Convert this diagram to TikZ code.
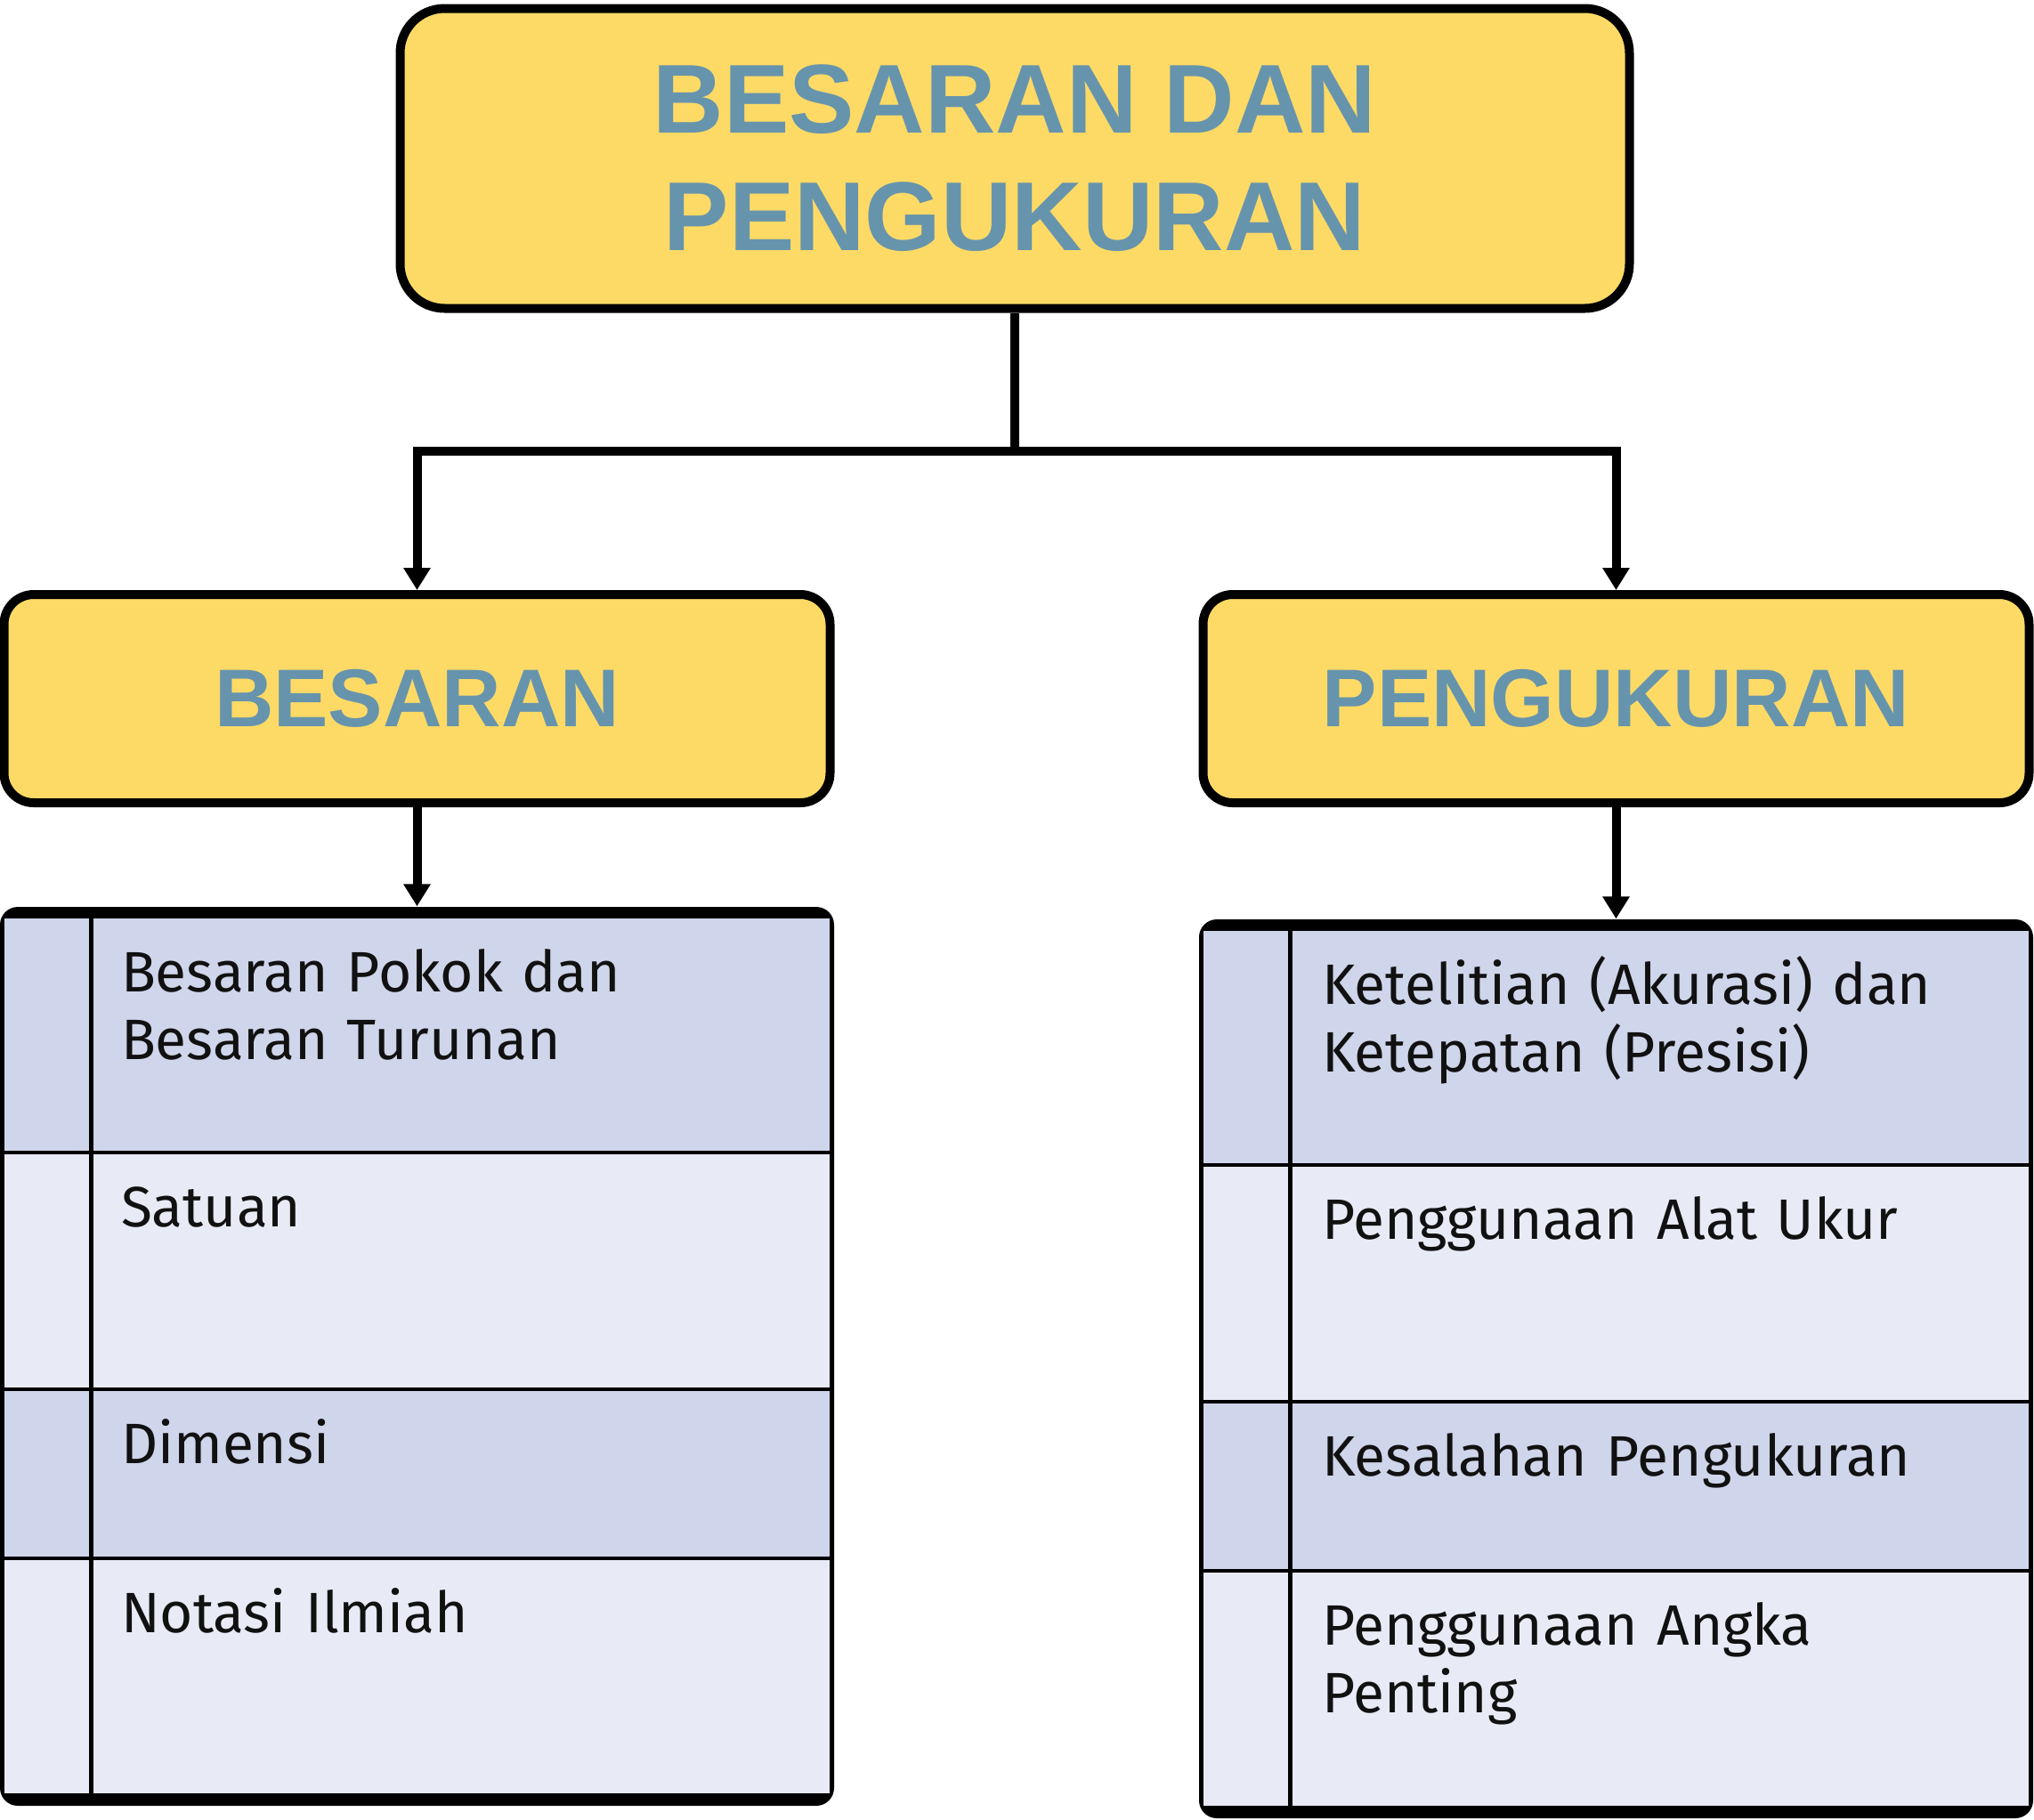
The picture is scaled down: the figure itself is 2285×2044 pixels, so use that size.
\documentclass[tikz,border=0pt]{standalone}
\usepackage{fontspec}
\setmainfont{Fira Sans}
\newfontfamily\headfont{Liberation Sans}
\usetikzlibrary{arrows.meta}

\definecolor{boxyellow}{HTML}{FDDA66}
\definecolor{titleblue}{HTML}{6794AD}
\definecolor{rowdark}{HTML}{CFD5EA}
\definecolor{rowlight}{HTML}{E8EBF5}
\definecolor{ink}{HTML}{111111}

\begin{document}
\begin{tikzpicture}[x=0.3pt,y=-0.3pt,>={Triangle[length=7.5pt,width=8.7pt]},
                    line join=miter]

  \tikzstyle{head}=[rectangle,draw,line width=3pt,fill=boxyellow,text=titleblue,
                    align=center]
  \tikzstyle{tab}=[rectangle,fill=black,rounded corners=6pt,inner sep=0pt,
                   minimum width=281.1pt,minimum height=303pt]
  \tikzstyle{item}=[anchor=base west,inner sep=0pt,text width=230pt,align=left,
                    text=ink,font=\fontsize{19.2}{22.8}\selectfont]
  \tikzstyle{link}=[line width=3pt]

  \useasboundingbox (0,0) rectangle (2285,2044);

  \node[head,rounded corners=15pt,minimum width=414.3pt,minimum height=101.1pt,
        font=\headfont\bfseries\fontsize{33}{39.6}\selectfont]
        (bdp) at (1140,178) {BESARAN DAN\\PENGUKURAN};

  \node[head,rounded corners=10pt,minimum width=278.4pt,minimum height=70.2pt,
        font=\headfont\bfseries\fontsize{27.6}{33}\selectfont]
        (besaran) at (468.5,785) {BESARAN};
  \node[head,rounded corners=10pt,minimum width=278.4pt,minimum height=70.2pt,
        font=\headfont\bfseries\fontsize{27.6}{33}\selectfont]
        (pengukuran) at (1815.5,785) {PENGUKURAN};

  \node[tab] (besarantab)    at (468.5,1524)  {};
  \node[tab] (pengukurantab) at (1815.5,1538) {};

  % rows of both tables
  \foreach \tbl in {besarantab,pengukurantab}{
    \foreach \ya/\yb/\col in {14/277/rowdark,277/543/rowlight,543/733/rowdark,733/997/rowlight}
      \fill[\col] ([shift={(5.5,\ya)}]\tbl.north west) rectangle ([shift={(-5.5,\yb)}]\tbl.north east);
    \foreach \y in {277,543,733}
      \draw[line width=1.2pt] ([shift={(5.5,\y)}]\tbl.north west) -- ([shift={(-5.5,\y)}]\tbl.north east);
    \draw[line width=1.5pt] ([shift={(103.5,14)}]\tbl.north west) -- ([shift={(103.5,997)}]\tbl.north west);
  }

  \node[item] (pokok)      at ([shift={(136,96)}]besarantab.north west)  {Besaran Pokok dan\\Besaran Turunan};
  \node[item] (satuan)     at ([shift={(136,360)}]besarantab.north west) {Satuan};
  \node[item] (dimensi)    at ([shift={(136,626)}]besarantab.north west) {Dimensi};
  \node[item] (notasi)     at ([shift={(136,816)}]besarantab.north west) {Notasi Ilmiah};

  \node[item] (ketelitian) at ([shift={(138,96)}]pengukurantab.north west)  {Ketelitian (Akurasi) dan\\Ketepatan (Presisi)};
  \node[item] (alatukur)   at ([shift={(138,360)}]pengukurantab.north west) {Penggunaan Alat Ukur};
  \node[item] (kesalahan)  at ([shift={(138,626)}]pengukurantab.north west) {Kesalahan Pengukuran};
  \node[item] (angka)      at ([shift={(138,816)}]pengukurantab.north west) {Penggunaan Angka\\Penting};

  \coordinate (split) at (1140,507);
  \draw[link]    (bdp) -- (split);
  \draw[link,->] (split) -| (besaran);
  \draw[link,->] (split) -| (pengukuran);
  \draw[link,->] (besaran) -- (besarantab);
  \draw[link,->] (pengukuran) -- (pengukurantab);
\end{tikzpicture}
\end{document}
